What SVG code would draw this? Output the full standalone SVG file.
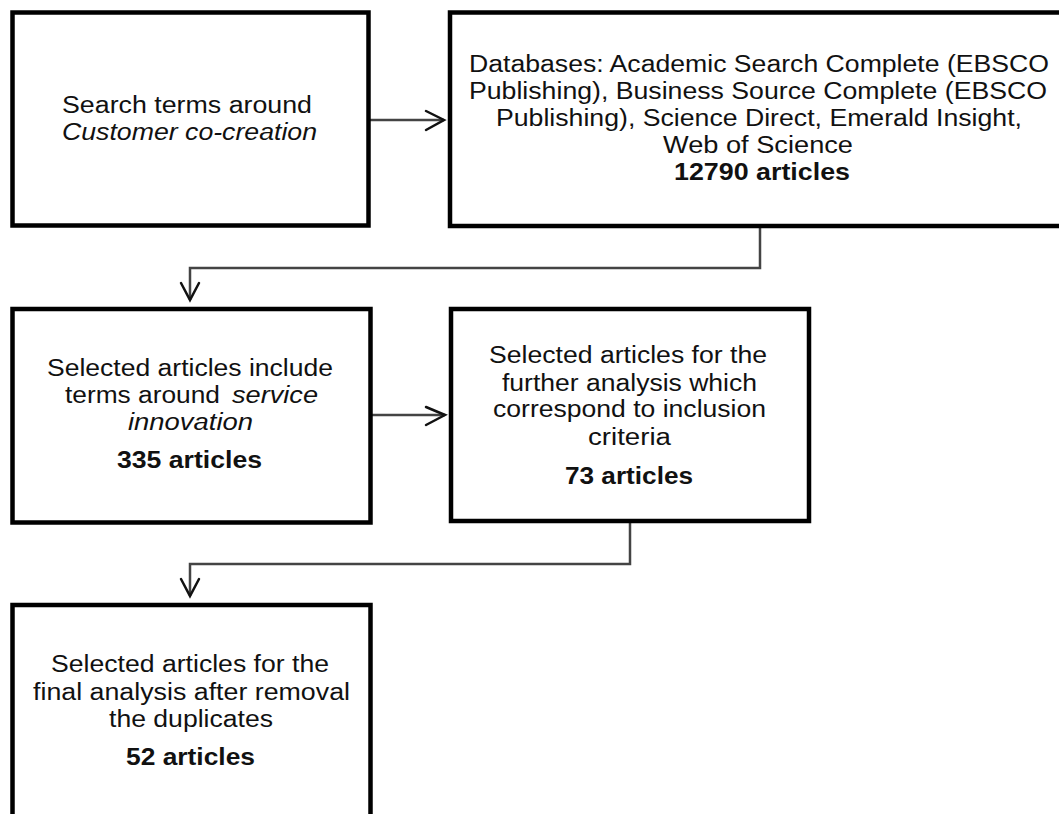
<svg xmlns="http://www.w3.org/2000/svg" width="1059" height="814" viewBox="0 0 1059 814">
  <defs>
    <style>
      .box { fill: #ffffff; stroke: #000000; stroke-width: 4.5; }
      .t { font-family: "Liberation Sans", Arial, sans-serif; font-size: 23px; fill: #111111; }
      .i { font-style: italic; }
      .b { font-weight: bold; }
      .link { fill: none; stroke: #444444; stroke-width: 2.5; }
      .head { fill: none; stroke: #111111; stroke-width: 2.5; stroke-linecap: round; stroke-linejoin: miter; }
    </style>
  </defs>
  <rect width="1059" height="814" fill="#ffffff"/>

  <g id="connectors">
    <!-- search terms -> databases -->
    <line class="link" x1="370" y1="120" x2="444" y2="120"/>
    <polyline class="head" points="426,111 444,120 426,130"/>
    <!-- databases -> service innovation filter -->
    <polyline class="link" points="760,228 760,268 190,268 190,300"/>
    <polyline class="head" points="181,283 190,300 199,283"/>
    <!-- service innovation filter -> inclusion criteria -->
    <line class="link" x1="372" y1="415" x2="445" y2="415" stroke-width="4"/>
    <polyline class="head" points="426,407 445,415 426,425"/>
    <!-- inclusion criteria -> duplicates removed -->
    <polyline class="link" points="630,523 630,564 190,564 190,596"/>
    <polyline class="head" points="181,579 190,596 199,579"/>
  </g>

  <g id="node-search">
    <rect class="box" x="12.5" y="12.5" width="356" height="213"/>
    <text class="t" x="62" y="113" textLength="250" lengthAdjust="spacingAndGlyphs">Search terms around</text>
    <text class="t i" x="62" y="140" textLength="255" lengthAdjust="spacingAndGlyphs">Customer co-creation</text>
  </g>

  <g id="node-databases">
    <rect class="box" x="450" y="12.5" width="620" height="213.5"/>
    <text class="t" x="469" y="72" textLength="580" lengthAdjust="spacingAndGlyphs">Databases: Academic Search Complete (EBSCO</text>
    <text class="t" x="469" y="99" textLength="578" lengthAdjust="spacingAndGlyphs">Publishing),  Business Source Complete (EBSCO</text>
    <text class="t" x="496" y="126" textLength="526" lengthAdjust="spacingAndGlyphs">Publishing),  Science Direct, Emerald Insight,</text>
    <text class="t" x="663" y="153" textLength="190" lengthAdjust="spacingAndGlyphs">Web of Science</text>
    <text class="t b" x="674" y="180" textLength="176" lengthAdjust="spacingAndGlyphs">12790 articles</text>
  </g>

  <g id="node-service">
    <rect class="box" x="12.5" y="309" width="358" height="213.5"/>
    <text class="t" x="47" y="376" textLength="286" lengthAdjust="spacingAndGlyphs">Selected articles include</text>
    <text class="t" x="65" y="403" textLength="155" lengthAdjust="spacingAndGlyphs">terms around</text>
    <text class="t i" x="232" y="403" textLength="86" lengthAdjust="spacingAndGlyphs">service</text>
    <text class="t i" x="128" y="430" textLength="125" lengthAdjust="spacingAndGlyphs">innovation</text>
    <text class="t b" x="117" y="468" textLength="145" lengthAdjust="spacingAndGlyphs">335 articles</text>
  </g>

  <g id="node-criteria">
    <rect class="box" x="451" y="309" width="358" height="212"/>
    <text class="t" x="489" y="363" textLength="278" lengthAdjust="spacingAndGlyphs">Selected articles for the</text>
    <text class="t" x="502" y="391" textLength="255" lengthAdjust="spacingAndGlyphs">further analysis which</text>
    <text class="t" x="493" y="417" textLength="273" lengthAdjust="spacingAndGlyphs">correspond to inclusion</text>
    <text class="t" x="588" y="445" textLength="83" lengthAdjust="spacingAndGlyphs">criteria</text>
    <text class="t b" x="565" y="484" textLength="128" lengthAdjust="spacingAndGlyphs">73 articles</text>
  </g>

  <g id="node-final">
    <rect class="box" x="12.5" y="605" width="358" height="240"/>
    <text class="t" x="51" y="672" textLength="278" lengthAdjust="spacingAndGlyphs">Selected articles for the</text>
    <text class="t" x="33" y="700" textLength="317" lengthAdjust="spacingAndGlyphs">final analysis after removal</text>
    <text class="t" x="109" y="727" textLength="164" lengthAdjust="spacingAndGlyphs">the duplicates</text>
    <text class="t b" x="126" y="765" textLength="129" lengthAdjust="spacingAndGlyphs">52 articles</text>
  </g>
</svg>
